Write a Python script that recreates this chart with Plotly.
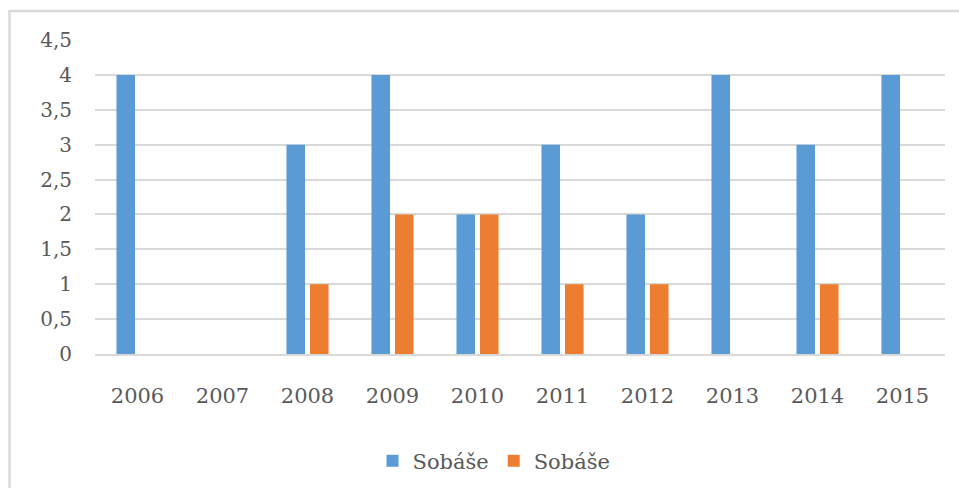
import plotly.graph_objects as go

years = ["2006", "2007", "2008", "2009", "2010", "2011", "2012", "2013", "2014", "2015"]
series1_name = "Sobáše"
series1 = [4, 0, 3, 4, 2, 3, 2, 4, 3, 4]
series2_name = "Sobáše"
series2 = [0, 0, 1, 2, 2, 1, 1, 0, 1, 0]
y_ticks = [0, 0.5, 1, 1.5, 2, 2.5, 3, 3.5, 4, 4.5]
y_tick_labels = ["0", "0,5", "1", "1,5", "2", "2,5", "3", "3,5", "4", "4,5"]

FONT = "DejaVu Serif"
TXT = "#595959"
GRID = "#d9d9d9"

fig = go.Figure()
fig.add_trace(go.Bar(x=years, y=series1, name=series1_name,
                     marker=dict(color="#5b9bd5", line=dict(width=0))))
fig.add_trace(go.Bar(x=years, y=series2, name=series2_name,
                     marker=dict(color="#ed7d31", line=dict(width=0))))

W, H = 959, 488
L, R, T, B = 95, 14, 40, 134
pw = W - L - R
ph = H - T - B

def px_x(px):
    return (px - L) / pw

def px_y(py):
    return (H - B - py) / ph

fig.update_layout(
    width=W, height=H,
    margin=dict(l=L, r=R, t=T, b=B, pad=0),
    paper_bgcolor="white", plot_bgcolor="white",
    barmode="group", bargap=0.447, bargroupgap=0.21,
    font=dict(family=FONT, color=TXT, size=20),
    showlegend=True,
    legend=dict(orientation="h", x=494 / W, xref="container", xanchor="center",
                y=(H - 461) / H, yref="container", yanchor="middle",
                font=dict(family=FONT, size=21, color=TXT),
                itemwidth=30, traceorder="normal", bgcolor="rgba(0,0,0,0)"),
    xaxis=dict(showgrid=False, showline=True, linecolor=GRID, linewidth=1.5,
               ticks="", tickfont=dict(family=FONT, size=21, color=TXT),
               ticklabelstandoff=22, zeroline=False),
    yaxis=dict(range=[0, 4.5], tickvals=y_ticks, ticktext=y_tick_labels,
               showgrid=True, gridcolor=GRID, gridwidth=1.5, zeroline=False,
               showline=False, ticks="",
               tickfont=dict(family=FONT, size=20, color=TXT),
               ticklabelstandoff=22),
    shapes=[dict(type="rect", xref="paper", yref="paper",
                 x0=px_x(9.5), x1=px_x(1000), y0=px_y(600), y1=px_y(11),
                 line=dict(color=GRID, width=2.5), fillcolor="rgba(0,0,0,0)",
                 layer="below")],
)

fig.write_html("out.html",
               config={"displayModeBar": False},
               post_script="document.body.style.margin='0';document.body.style.overflow='hidden';")
